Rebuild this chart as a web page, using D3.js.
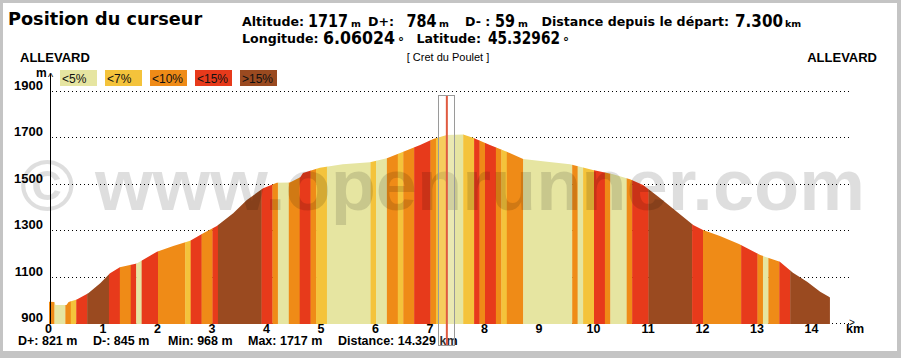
<!DOCTYPE html>
<html><head><meta charset="utf-8">
<script src="https://cdn.jsdelivr.net/npm/d3@7"></script>
<style>body{margin:0;background:#fff}svg{display:block}</style>
</head><body><svg id="c" width="901" height="358"></svg>
<script>
// ---- data ----
const profileKm   = [0, 0.1, 0.12, 0.32, 0.36, 0.51, 0.72, 0.94, 1.12, 1.30, 1.61, 1.98, 2.28, 2.59, 2.83, 3.08, 3.38, 3.63, 3.93, 4.18, 4.42, 4.61, 4.66, 4.97, 5.39, 5.89, 6.20, 6.50, 6.81, 7.05, 7.30, 7.60, 7.78, 8.09, 8.40, 8.70, 9.14, 9.56, 9.98, 10.35, 10.66, 10.90, 11.21, 11.52, 11.82, 12.00, 12.31, 12.66, 13.05, 13.41, 13.65, 13.91, 14.15, 14.31, 14.329];
const profileElev = [992, 990, 978, 978, 990, 1001, 1028, 1071, 1114, 1140, 1157, 1207, 1232, 1255, 1287, 1318, 1373, 1430, 1481, 1505, 1506, 1528, 1547, 1569, 1584, 1593, 1610, 1638, 1667, 1693, 1710, 1712, 1699, 1667, 1638, 1607, 1595, 1584, 1559, 1541, 1520, 1495, 1439, 1380, 1322, 1301, 1275, 1241, 1193, 1164, 1117, 1078, 1035, 1013, 1010];
const bandEdgesKm = [0, 0.1, 0.3, 0.4, 0.5, 0.7, 1.1, 1.3, 1.5, 1.6, 1.7, 2.0, 2.5, 2.6, 2.8, 3.0, 3.1, 3.9, 4.1, 4.2, 4.4, 4.6, 4.8, 4.9, 5.1, 5.9, 6.0, 6.2, 6.4, 6.5, 6.7, 7.0, 7.1, 7.3, 7.6, 7.8, 7.9, 8.0, 8.2, 8.3, 8.4, 8.7, 9.6, 9.7, 9.8, 10.0, 10.2, 10.3, 10.6, 10.7, 11.0, 11.8, 12.0, 12.7, 13.0, 13.1, 13.2, 13.4, 13.6, 14.329];
const bandClass   = [2,0,2,1,3,4,3,2,3,0,3,2,1,3,2,3,4,3,2,0,2,3,2,1,0,1,0,2,1,2,3,2,1,0,1,3,2,3,2,1,2,0,2,0,1,3,2,0,2,3,4,3,2,3,2,0,2,3,4];
const classLabels = ["<5%", "<7%", "<10%", "<15%", ">15%"];
const classColors = ["#e6e5a1", "#f4c33b", "#ef8b17", "#e73a1b", "#9a4a20"];
const yTicks = [900, 1100, 1300, 1500, 1700, 1900];
const xTicks = [0, 1, 2, 3, 4, 5, 6, 7, 8, 9, 10, 11, 12, 13, 14];
const summaryLabels = ["D+: 821 m", "D-: 845 m", "Min: 968 m", "Max: 1717 m", "Distance: 14.329 km"];
const cursorKm = 7.3;
const startName = "ALLEVARD", endName = "ALLEVARD", poiName = "[ Cret du Poulet ]";
const headerTitle = "Position du curseur";
const headerLine1 = [["Altitude:", "1717", "m"], ["D+:", "784", "m"], ["D- :", "59", "m"], ["Distance depuis le départ:", "7.300", "km"]];
const headerLine2 = [["Longitude:", "6.06024", "°"], ["Latitude:", "45.32962", "°"]];

// ---- drawing ----
const svg = d3.select("#c");
const W = 901, H = 358;
svg.append("rect").attr("width", W).attr("height", H).attr("fill", "#c4c4c4");
svg.append("rect").attr("x", 3).attr("y", 3).attr("width", 894).attr("height", 348).attr("fill", "#fff");

const x = d3.scaleLinear().domain([0, 14]).range([49, 812]);
const y = d3.scaleLinear().domain([900, 1900]).range([323, 91]);
const bold = "'DejaVu Sans', Verdana, sans-serif";
const arial = "'Liberation Sans', Arial, sans-serif";

// header
svg.append("text").attr("x", 8).attr("y", 25).text(headerTitle)
  .attr("font-family", bold).attr("font-weight", "bold").attr("font-size", 17.7).attr("fill", "#000");

const l1pos = [[242, 308, 40, 351], [368, 406.5, 30, 439], [465, 495, 20, 518], [541.5, 735, 48, 785]];
const l2pos = [[242, 323, 72, 398], [416.5, 488, 72, 563]];
function headerRow(items, pos, base) {
  items.forEach((it, i) => {
    const p = pos[i];
    svg.append("text").attr("x", p[0]).attr("y", base).text(it[0])
      .attr("font-family", bold).attr("font-weight", "bold").attr("font-size", 12.6).attr("fill", "#000");
    svg.append("text").attr("x", p[1]).attr("y", base + 1).text(it[1])
      .attr("font-family", bold).attr("font-weight", "bold").attr("font-size", 18)
      .attr("textLength", p[2]).attr("lengthAdjust", "spacingAndGlyphs").attr("fill", "#000");
    const u = svg.append("text").attr("x", p[3]).text(it[2])
      .attr("font-family", bold).attr("font-weight", "bold").attr("fill", "#000");
    if (it[2] === "°") u.attr("y", base + 3).attr("font-size", 12);
    else u.attr("y", base + 1).attr("font-size", 9.5);
  });
}
headerRow(headerLine1, l1pos, 26);
headerRow(headerLine2, l2pos, 43);

svg.append("text").attr("x", 20).attr("y", 62).text(startName)
  .attr("font-family", arial).attr("font-weight", "bold").attr("font-size", 13);
svg.append("text").attr("x", 877).attr("y", 62).attr("text-anchor", "end").text(endName)
  .attr("font-family", arial).attr("font-weight", "bold").attr("font-size", 13);
svg.append("text").attr("x", 448).attr("y", 61).attr("text-anchor", "middle").text(poiName)
  .attr("font-family", arial).attr("font-size", 11);

// legend
classLabels.forEach((lab, i) => {
  const g = svg.append("g").attr("transform", `translate(${60 + 45 * i},70)`);
  g.append("rect").attr("width", 37).attr("height", 16).attr("fill", classColors[i]);
  g.append("text").attr("x", 2).attr("y", 12.5).text(lab)
    .attr("font-family", arial).attr("font-size", 12).attr("fill", "#111");
});

// grid
yTicks.filter(t => t > 900).forEach(t => {
  svg.append("line").attr("x1", 52).attr("x2", 850).attr("y1", Math.round(y(t)) + 0.5).attr("y2", Math.round(y(t)) + 0.5)
    .attr("stroke", "#000").attr("stroke-dasharray", "1,3");
});
svg.append("line").attr("x1", 52).attr("x2", 849).attr("y1", 323.5).attr("y2", 323.5)
  .attr("stroke", "#000").attr("stroke-dasharray", "1,3");

// profile
const pts = profileKm.map((k, i) => [k, profileElev[i]]);
const area = d3.area().x(d => x(d[0])).y0(324).y1(d => y(d[1]));
svg.append("clipPath").attr("id", "prof").append("path").attr("d", area(pts));
const bands = svg.append("g").attr("clip-path", "url(#prof)");
bandClass.forEach((c, i) => {
  const x0 = x(bandEdgesKm[i]), x1 = x(bandEdgesKm[i + 1]);
  bands.append("rect").attr("x", x0).attr("y", 80).attr("width", x1 - x0 + 0.3).attr("height", 250)
    .attr("fill", classColors[c]);
});

// y axis
svg.append("line").attr("x1", 50.5).attr("x2", 50.5).attr("y1", 74).attr("y2", 324).attr("stroke", "#000");
svg.append("text").attr("x", 36).attr("y", 77).text("m").attr("font-family", arial).attr("font-weight", "bold").attr("font-size", 12);
svg.append("text").attr("x", 50.5).attr("y", 81).attr("text-anchor", "middle").text("^").attr("font-family", arial).attr("font-size", 11);
yTicks.forEach(t => {
  svg.append("text").attr("x", 43).attr("y", y(t) - 1).attr("text-anchor", "end").text(t)
    .attr("font-family", arial).attr("font-weight", "bold").attr("font-size", 13);
});
xTicks.forEach(t => {
  svg.append("text").attr("x", x(t) - 0.5).attr("y", 333).attr("text-anchor", "middle").text(t)
    .attr("font-family", arial).attr("font-weight", "bold").attr("font-size", 12.5);
});
svg.append("text").attr("x", 852).attr("y", 326).attr("text-anchor", "middle").text(">")
  .attr("font-family", arial).attr("font-size", 10);
svg.append("text").attr("x", 855).attr("y", 333).attr("text-anchor", "middle").text("km")
  .attr("font-family", arial).attr("font-weight", "bold").attr("font-size", 12.5);

// summary
const sumX = [18, 93, 168, 248, 338];
summaryLabels.forEach((s, i) => {
  svg.append("text").attr("x", sumX[i]).attr("y", 345).text(s)
    .attr("font-family", arial).attr("font-weight", "bold").attr("font-size", 12.5);
});

// watermark
svg.append("text").attr("x", 20).attr("y", 210).text("© www.openrunner.com")
  .attr("font-family", arial).attr("font-weight", "bold").attr("font-size", 73)
  .attr("textLength", 845).attr("lengthAdjust", "spacingAndGlyphs")
  .attr("fill", "#000").attr("fill-opacity", 0.13);

// cursor
const cx = x(cursorKm);
svg.append("rect").attr("x", Math.round(cx) - 8.5).attr("y", 95.5).attr("width", 16).attr("height", 250)
  .attr("fill", "#fff").attr("fill-opacity", 0.18).attr("stroke", "#9a9a9a");
svg.append("line").attr("x1", cx).attr("x2", cx).attr("y1", 96).attr("y2", 345)
  .attr("stroke", "#e05a40").attr("stroke-width", 2);
</script></body></html>
